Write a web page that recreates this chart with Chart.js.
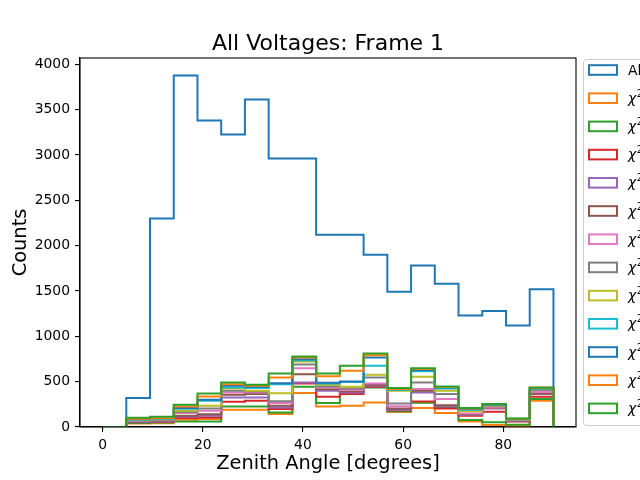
<!DOCTYPE html>
<html>
<head>
<meta charset="utf-8">
<title>All Voltages: Frame 1</title>
<script src="https://cdn.jsdelivr.net/npm/chart.js@4.4.1/dist/chart.umd.min.js"></script>
<style>
  html, body { margin: 0; padding: 0; background: #fff; overflow: hidden; }
  #wrap { width: 640px; height: 480px; }
</style>
</head>
<body>
<div id="wrap"><canvas id="zenithChart" width="640" height="480"></canvas></div>
<script>
// Zenith angle histogram, 19 bins between 0 and 90 degrees.
var BIN_MIN = 0;
var BIN_MAX = 90;
var BIN_COUNT = 19;

var TITLE = 'All Voltages: Frame 1';
var X_TICKS = [0, 20, 40, 60, 80];
var Y_TICKS = [0, 500, 1000, 1500, 2000, 2500, 3000, 3500, 4000];

var LABELS = [
  'All',
  'χ² < 1', 'χ² < 2', 'χ² < 3', 'χ² < 4', 'χ² < 5', 'χ² < 6',
  'χ² < 7', 'χ² < 8', 'χ² < 9', 'χ² < 10', 'χ² < 11', 'χ² < 12'
];

// counts per bin
var ALL   = [0, 320, 2300, 3875, 3380, 3225, 3610, 2960, 2960, 2120, 2120, 1900, 1490, 1780, 1580, 1230, 1280, 1120, 1520];
var CHI1  = [0, 38, 42, 80, 88, 190, 190, 143, 374, 227, 234, 271, 165, 209, 154, 62, 22, 10, 290];
var CHI2  = [0, 44, 50, 62, 62, 227, 227, 160, 443, 264, 420, 436, 175, 267, 215, 77, 51, 25, 308];
var CHI3  = [0, 52, 58, 99, 106, 278, 289, 198, 480, 333, 363, 443, 185, 282, 205, 124, 168, 62, 333];
var CHI4  = [0, 55, 62, 112, 124, 326, 326, 216, 491, 399, 381, 454, 190, 381, 230, 135, 205, 70, 363];
var CHI5  = [0, 61, 68, 125, 140, 355, 363, 235, 582, 415, 395, 465, 205, 400, 240, 140, 210, 75, 370];
var CHI6  = [0, 66, 74, 154, 179, 381, 380, 265, 648, 436, 407, 480, 230, 418, 308, 150, 215, 78, 385];
var CHI7  = [0, 72, 80, 165, 205, 399, 392, 285, 690, 450, 425, 546, 260, 491, 363, 179, 228, 82, 407];
var CHI8  = [0, 78, 86, 180, 234, 425, 400, 372, 722, 465, 443, 575, 400, 553, 399, 175, 238, 84, 415];
var CHI9  = [0, 83, 92, 200, 289, 436, 430, 472, 735, 480, 495, 674, 410, 615, 425, 190, 243, 86, 422];
var CHI10 = [0, 86, 96, 210, 300, 454, 445, 482, 747, 487, 502, 766, 415, 626, 435, 198, 248, 88, 428];
var CHI11 = [0, 92, 100, 227, 337, 472, 455, 546, 765, 560, 619, 791, 420, 640, 440, 203, 250, 92, 432];
var CHI12 = [0, 101, 112, 245, 370, 490, 465, 590, 777, 590, 674, 810, 429, 648, 447, 209, 253, 95, 436];

(function () {
  var FONT = '"DejaVu Sans", Verdana, sans-serif';
  // matplotlib tab10 cycle
  var COLORS = [
    '#1f77b4', '#ff7f0e', '#2ca02c', '#d62728', '#9467bd', '#8c564b',
    '#e377c2', '#7f7f7f', '#bcbd22', '#17becf', '#1f77b4', '#ff7f0e', '#2ca02c'
  ];
  var SERIES = [ALL, CHI1, CHI2, CHI3, CHI4, CHI5, CHI6, CHI7, CHI8, CHI9, CHI10, CHI11, CHI12];

  var edges = [];
  for (var i = 0; i <= BIN_COUNT; i++) {
    edges.push(BIN_MIN + (BIN_MAX - BIN_MIN) * i / BIN_COUNT);
  }

  /* Outline of a 'step' histogram. One point per right bin edge; Chart.js
   * stepped 'after' goes vertical at the previous x, then horizontal. */
  function stepPoints(values) {
    var pts = [{ x: edges[0], y: 0 }, { x: edges[0], y: values[0] }];
    values.forEach(function (v, k) { pts.push({ x: edges[k + 1], y: v }); });
    pts.push({ x: edges[edges.length - 1], y: 0 });
    return pts;
  }

  var datasets = SERIES.map(function (vals, k) {
    return {
      label: LABELS[k],
      data: stepPoints(vals),
      borderColor: COLORS[k],
      backgroundColor: COLORS[k],
      borderWidth: 2,
      stepped: 'after',
      fill: false,
      pointRadius: 0,
      order: -k   // later series on top, like matplotlib
    };
  });

  var ymax = Math.max.apply(null, ALL) * 1.05;

  /* Title, top/right spines and the clipped legend box at the right edge. */
  var framePlugin = {
    id: 'frameAndLegend',
    afterDraw: function (chart) {
      var ctx = chart.ctx;
      var a = chart.chartArea;
      ctx.save();
      ctx.strokeStyle = '#000';
      ctx.lineWidth = 1.1;
      ctx.strokeRect(a.left, a.top, a.right - a.left, a.bottom - a.top);

      ctx.fillStyle = '#000';
      ctx.font = '22px ' + FONT;
      ctx.textAlign = 'center';
      ctx.textBaseline = 'alphabetic';
      ctx.fillText(TITLE, (a.left + a.right) / 2, a.top - 8.3);

      // legend frame
      var lx = 583.5, ly = 59.5, lw = 120, lh = 366, r = 3;
      ctx.beginPath();
      ctx.moveTo(lx + r, ly);
      ctx.lineTo(lx + lw, ly);
      ctx.lineTo(lx + lw, ly + lh);
      ctx.lineTo(lx + r, ly + lh);
      ctx.arcTo(lx, ly + lh, lx, ly + lh - r, r);
      ctx.lineTo(lx, ly + r);
      ctx.arcTo(lx, ly, lx + r, ly, r);
      ctx.closePath();
      ctx.fillStyle = 'rgba(255,255,255,0.8)';
      ctx.fill();
      ctx.strokeStyle = '#cccccc';
      ctx.lineWidth = 1;
      ctx.stroke();

      LABELS.forEach(function (text, k) {
        var cy = 70 + k * 28.2;
        ctx.strokeStyle = COLORS[k];
        ctx.lineWidth = 2;
        ctx.strokeRect(589, cy - 4.8, 28, 9.6);
        ctx.fillStyle = '#000';
        ctx.textBaseline = 'middle';
        ctx.textAlign = 'left';
        if (text.charAt(0) === 'χ') {
          ctx.font = 'italic 13.9px ' + FONT;
          ctx.fillText('χ', 628, cy + 1);
          var w = ctx.measureText('χ').width;
          ctx.font = '9.7px ' + FONT;
          ctx.fillText('2', 628 + w + 0.5, cy - 4);
          var w2 = ctx.measureText('2').width;
          ctx.font = '13.9px ' + FONT;
          ctx.fillText(text.slice(2), 628 + w + w2 + 1, cy + 1);
        } else {
          ctx.font = '13.9px ' + FONT;
          ctx.fillText(text, 628, cy + 1);
        }
      });
      ctx.restore();
    }
  };

  function axisTicks(values) {
    return function (scale) {
      scale.ticks = values.map(function (v) { return { value: v }; });
    };
  }

  new Chart(document.getElementById('zenithChart').getContext('2d'), {
    type: 'line',
    data: { datasets: datasets },
    options: {
      responsive: false,
      devicePixelRatio: 1,
      animation: false,
      layout: { padding: { top: 58, right: 64, bottom: 0, left: 0 } },
      plugins: {
        legend: { display: false },
        tooltip: { enabled: false },
        title: { display: false }
      },
      scales: {
        x: {
          type: 'linear',
          min: BIN_MIN - (BIN_MAX - BIN_MIN) * 0.05,
          max: BIN_MAX + (BIN_MAX - BIN_MIN) * 0.05,
          afterBuildTicks: axisTicks(X_TICKS),
          afterFit: function (s) { s.height = 53; },
          grid: { drawOnChartArea: false, drawTicks: true, tickLength: 5, color: '#000', lineWidth: 1.1 },
          border: { display: true, color: '#000', width: 1.1 },
          ticks: {
            color: '#000', padding: 5, maxRotation: 0,
            font: { family: FONT, size: 13.9 },
            callback: function (v) { return String(v); }
          },
          title: {
            display: true, text: 'Zenith Angle [degrees]', color: '#000',
            font: { family: FONT, size: 19.4 },
            padding: { top: 0, bottom: 4 }
          }
        },
        y: {
          min: 0,
          max: ymax,
          afterBuildTicks: axisTicks(Y_TICKS),
          afterFit: function (s) { s.width = 80; },
          grid: { drawOnChartArea: false, drawTicks: true, tickLength: 5, color: '#000', lineWidth: 1.1 },
          border: { display: true, color: '#000', width: 1.1 },
          ticks: {
            color: '#000', padding: 5,
            font: { family: FONT, size: 13.9 },
            callback: function (v) { return String(v); }
          },
          title: {
            display: true, text: 'Counts', color: '#000',
            font: { family: FONT, size: 19.4 },
            padding: { top: 9, bottom: 0 }
          }
        }
      }
    },
    plugins: [framePlugin]
  });
})();
</script>
</body>
</html>
